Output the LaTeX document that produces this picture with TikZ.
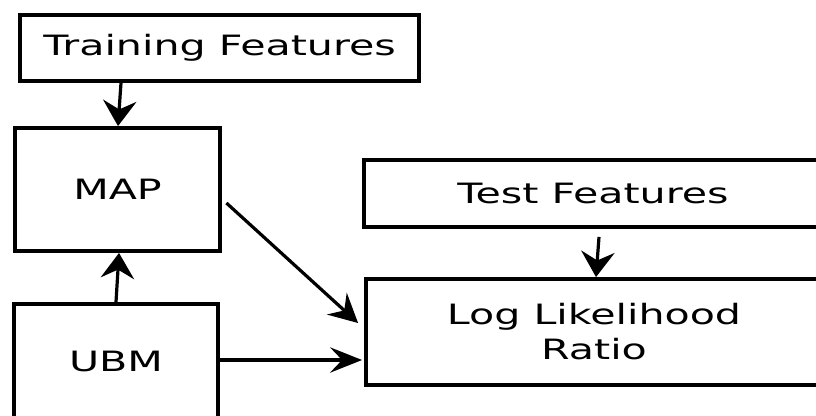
\documentclass[tikz,border=0pt]{standalone}
\usepackage{fontspec}
\setmainfont{DejaVu Sans}[FakeStretch=1.47]
\usetikzlibrary{arrows.meta,calc}

\begin{document}
\begin{tikzpicture}[
    x={(0.75pt,0)}, y={(0,-0.75pt)},
    block/.style={draw, line width=2.9pt, inner sep=0pt, align=center,
      font=\fontsize{21}{26.25}\selectfont},
    link/.style={line width=2.4pt},
    vtip/.style={-{Stealth[length=19pt, width=25pt, inset=6.5pt]}},
    htip/.style={-{Stealth[length=24pt, width=19pt, inset=9pt]}},
    dtip/.style={-{Stealth[length=21.5pt, width=22pt, inset=7.5pt]}},
  ]
  \useasboundingbox (0,0) rectangle (816,415);

  % processing blocks
  \node[block, minimum width=299.25pt, minimum height=49.5pt]  (tf)  at (219.5,48)  {Training Features};
  \node[block, minimum width=153.75pt, minimum height=92.25pt] (map) at (117.5,189.5) {MAP};
  \node[block, minimum width=153pt,    minimum height=85.5pt]  (ubm) at (116,361)   {UBM};
  \node[block, minimum width=343.5pt,  minimum height=50.25pt] (tsf) at (593,193.5) {Test Features};
  \node[block, minimum width=342pt,    minimum height=79.5pt]  (llr) at (594,332)   {Log Likelihood\\Ratio};

  % data flow
  \draw[link, vtip] ($(tf.south)+(-98.5,0)$) -- ($(map.north)+(0.5,0)$);
  \draw[link, vtip] (ubm.north) -- ($(map.south)+(1.5,0)$);
  \draw[link, dtip] ($(map.east)+(4.5,13.5)$) -- ($(llr.west)+(-6,-9)$);
  \draw[link, htip] ($(ubm.east)+(0,-1)$) -- ($(llr.west)+(-2,28)$);
  \draw[link, vtip] ($(tsf.south)+(6,8)$) -- ($(llr.north)+(2,0)$);
\end{tikzpicture}
\end{document}
